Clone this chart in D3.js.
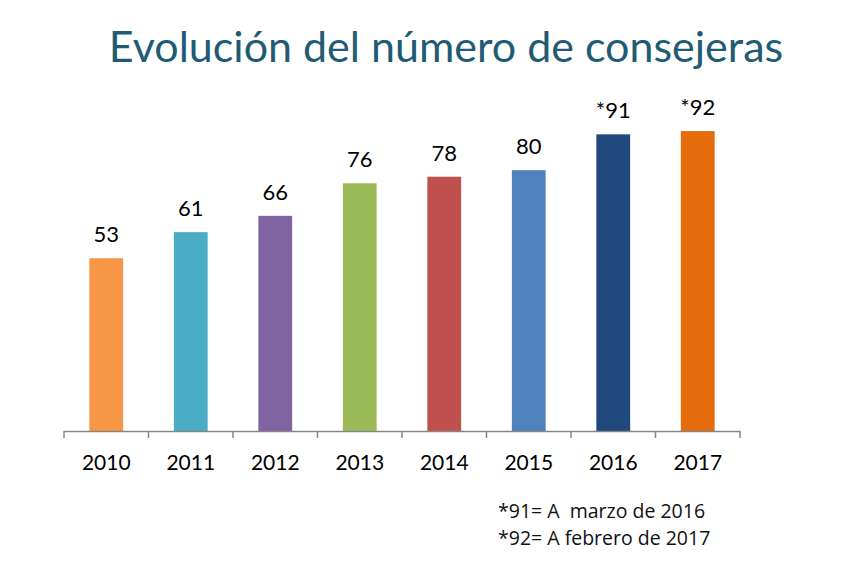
<!DOCTYPE html>
<html><head><meta charset="utf-8">
<script src="https://cdn.jsdelivr.net/npm/d3@7"></script>
<style>body{margin:0;background:#fff}</style>
</head><body>
<svg id="c" width="850" height="576"></svg>
<script>
const years = ["2010","2011","2012","2013","2014","2015","2016","2017"];
const values = [53,61,66,76,78,80,91,92];
const labels = ["53","61","66","76","78","80","*91","*92"];
const colors = ["#F79646","#4BACC6","#8064A2","#9BBB59","#C0504D","#4F81BD","#1F497D","#E46C0A"];
const title = "Evolución del número de consejeras";
const notes = ["*91= A  marzo de 2016","*92= A febrero de 2017"];

const svg = d3.select("#c");
const x = d3.scaleBand().domain(years).range([64,740]).paddingInner(0.6).paddingOuter(0.3);
const y = d3.scaleLinear().domain([0,100]).range([431,105]);

svg.append("text").attr("x",446).attr("y",62).attr("text-anchor","middle")
  .attr("font-family","Lato, 'Open Sans', sans-serif").attr("font-size",43)
  .attr("fill","#1F5C73").text(title);

svg.selectAll("rect.bar").data(values).join("rect").attr("class","bar")
  .attr("x",(d,i)=>x(years[i])).attr("width",x.bandwidth())
  .attr("y",d=>y(d)).attr("height",d=>y(0)-y(d))
  .attr("fill",(d,i)=>colors[i]);

svg.selectAll("text.val").data(values).join("text").attr("class","val")
  .attr("x",(d,i)=>x(years[i])+x.bandwidth()/2).attr("y",d=>y(d)-16)
  .attr("text-anchor","middle").attr("font-family","Lato, sans-serif").attr("font-size",22)
  .attr("fill","#000").text((d,i)=>labels[i]);

// axis
const g = svg.append("g");
g.append("line").attr("x1",64).attr("x2",740).attr("y1",431.5).attr("y2",431.5).attr("stroke","#868686").attr("stroke-width",1.5);
const bounds = d3.range(years.length+1).map(i=>64+i*(676/years.length));
g.selectAll("line.tk").data(bounds).join("line").attr("class","tk")
  .attr("x1",d=>d).attr("x2",d=>d).attr("y1",431).attr("y2",438).attr("stroke","#868686").attr("stroke-width",1.5);
g.selectAll("text.yr").data(years).join("text").attr("class","yr")
  .attr("x",d=>x(d)+x.bandwidth()/2).attr("y",470).attr("text-anchor","middle")
  .attr("font-family","Lato, sans-serif").attr("font-size",21).attr("fill","#000").text(d=>d);

svg.selectAll("text.note").data(notes).join("text").attr("class","note")
  .attr("x",498).attr("y",(d,i)=>518+i*27).attr("font-family","'Open Sans', sans-serif")
  .attr("font-size",19.5).attr("fill","#111").attr("xml:space","preserve").style("white-space","pre").text(d=>d);
</script>
</body></html>
